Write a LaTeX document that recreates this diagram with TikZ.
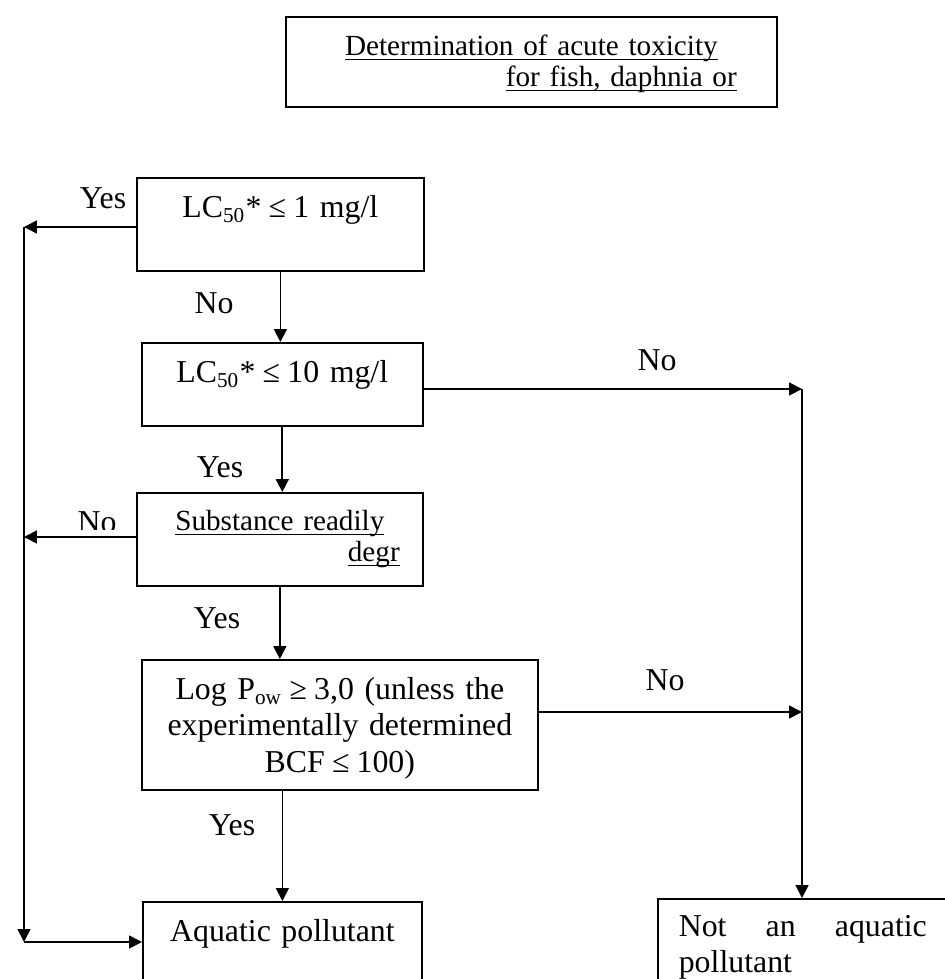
\documentclass[tikz,border=0pt]{standalone}
\usepackage{fontspec}
\setmainfont{Liberation Serif}
\usetikzlibrary{arrows.meta,positioning}
\newcommand{\undertext}[1]{\leavevmode\setbox0\hbox{#1}\rlap{\rule[-1.5pt]{\wd0}{0.45pt}}\box0}
\newcommand{\atmost}{\kern-1.3pt≤\kern-1.3pt}
\newcommand{\atleast}{\kern-1.3pt≥\kern-1.3pt}
\tikzset{
  test box/.style={
    rectangle, draw, line width=0.65pt, anchor=north west,
    inner sep=0pt, align=center,
    font=\fontsize{12}{13.6}\selectfont
  },
  small underlined/.style={font=\fontsize{11}{11.7}\selectfont},
  answer/.style={inner sep=1pt, font=\fontsize{12}{13.6}\selectfont},
  flow arrow/.style={-{Triangle[length=4.9pt,width=4.9pt]}, line width=0.65pt}
}

\begin{document}
\begin{tikzpicture}[x=0.377pt, y=-0.377pt]
    \useasboundingbox (0,0) rectangle (945,979);
    \clip (0,0) rectangle (945,979);
    % boxes
    \node[test box, small underlined, text width=185.1pt, text height=14.7pt, text depth=19.2pt] (toxicity) at (285,16)
      {\makebox[\linewidth]{\undertext{Determination of acute toxicity}}\\
       \makebox[\linewidth][r]{\undertext{for fish, daphnia or}\hspace{15.1pt}}};
    \node[test box, text width=108.2pt, text height=15.1pt, text depth=20pt] (lcone) at (136,177)
      {LC\textsubscript{50}* \atmost{} 1 mg/l};
    \node[test box, text width=105.9pt, text height=15.1pt, text depth=16.2pt] (lcten) at (141,342)
      {LC\textsubscript{50}* \atmost{} 10 mg/l};
    \node[test box, small underlined, text width=107.8pt, text height=14.3pt, text depth=20.7pt] (degradable) at (136,492)
      {\makebox[\linewidth]{\undertext{Substance readily}}\\
       \makebox[\linewidth][r]{\undertext{degr}\hspace{8.7pt}}};
    \node[test box, text width=149.3pt, text height=15.1pt, text depth=33.9pt] (partition) at (141,659)
      {Log P\textsubscript{ow} \atleast{} 3,0 (unless the\\ experimentally determined\\ BCF \atmost{} 100)};
    \node[test box, text width=105.2pt, text height=15.1pt, text depth=22.2pt] (pollutant) at (142,901)
      {Aquatic pollutant};
    \node[test box, align=left, inner xsep=7.9pt, text width=93.5pt, text height=14.3pt, text depth=37.7pt] (notpollutant) at (657,898)
      {Not\hfill an\hfill aquatic\\ pollutant};
    % turning points
    \coordinate (yesturn) at (24,227);
    \coordinate (nodrop) at (24,537);
    \coordinate (yesfoot) at (24,942);
    \coordinate (noturn) at (802,389);
    \coordinate (nojoin) at (802,712);
    % connectors
    \draw[flow arrow] (lcone.south) -- (lcone.south |- lcten.north);
    \draw[flow arrow] (lcten.south) -- (lcten.south |- degradable.north);
    \draw[flow arrow] (degradable.south) -- (degradable.south |- partition.north);
    \draw[flow arrow] (pollutant.north |- partition.south) -- (pollutant.north);
    \draw[flow arrow] (yesturn -| lcone.west) -- (yesturn);
    \draw[flow arrow] (nodrop -| degradable.west) -- (nodrop);
    \draw[flow arrow] (yesturn) -- (yesfoot);
    \draw[flow arrow] (yesfoot) -- (yesfoot -| pollutant.west);
    \draw[flow arrow] (noturn -| lcten.east) -- (noturn);
    \draw[flow arrow] (nojoin -| partition.east) -- (nojoin);
    \draw[flow arrow] (noturn) -- (noturn |- notpollutant.north);
    % answers
    \node[answer] (yesone) at (103,198) {Yes};
    \node[answer] (noone) at (214,303) {No};
    \node[answer] (notwo) at (657,360) {No};
    \node[answer] (yestwo) at (220,467) {Yes};
    \begin{scope}
      \clip (60,500) rectangle (134,529);
      \node[answer] (nothree) at (97,522) {No};
    \end{scope}
    \node[answer] (yesthree) at (217,618) {Yes};
    \node[answer] (nofour) at (665,680) {No};
    \node[answer] (yesfour) at (232,825) {Yes};
\end{tikzpicture}
\end{document}
